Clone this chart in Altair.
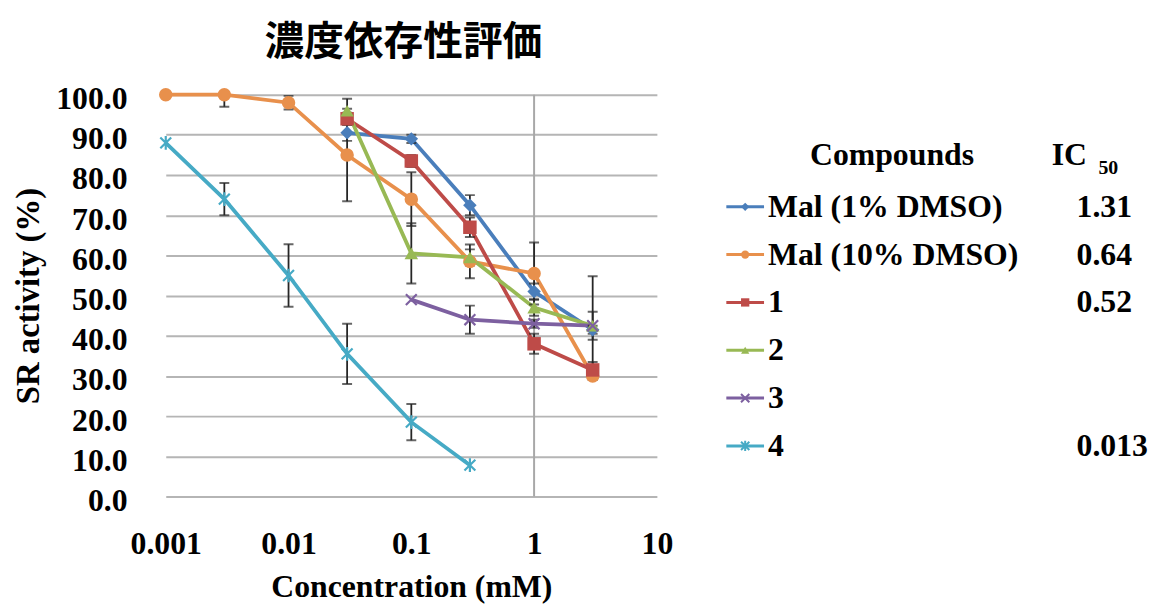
import altair as alt
import pandas as pd

# ---------------- data ----------------
compounds = ["Mal (1% DMSO)", "Mal (10% DMSO)", "1", "2", "3", "4"]
ic50_labels = ["1.31", "0.64", "0.52", "", "", "0.013"]
header_texts = ["Compounds", "IC", "50"]
chart_title = "濃度依存性評価"
x_title = "Concentration (mM)"
y_title = "SR activity (%)"

concentrations = [0.001, 0.003, 0.01, 0.03, 0.1, 0.3, 1, 3]
x_ticks = [0.001, 0.01, 0.1, 1, 10]
y_ticks = [0, 10, 20, 30, 40, 50, 60, 70, 80, 90, 100]
vertical_line_at = [1]

mal1 = [None, None, None, 90.5, 89.0, 72.5, 51.0, 41.5]
mal10 = [100.0, 100.0, 98.0, 85.0, 74.0, 58.5, 55.5, 30.0]
cmp1 = [None, None, None, 94.0, 83.5, 67.0, 38.0, 31.5]
cmp2 = [None, None, None, 96.0, 60.5, 59.5, 47.0, 42.5]
cmp3 = [None, None, None, None, 49.0, 44.0, 43.0, 42.5]
cmp4 = [88.0, 74.0, 55.0, 35.5, 18.5, 7.8, None, None]

mal1_err = [None, None, None, 2.0, 1.0, 2.5, 2.0, 1.0]
mal10_err = [None, 3.0, 1.7, 11.5, 6.7, 4.2, 7.7, 1.0]
cmp1_err = [None, None, None, 1.5, 1.5, 2.4, 2.5, 2.0]
cmp2_err = [None, None, None, 3.0, 7.5, 2.0, 2.0, 12.3]
cmp3_err = [None, None, None, None, 0.5, 3.5, 1.0, 3.5]
cmp4_err = [0.5, 4.0, 7.8, 7.5, 4.5, 0.5, None, None]

series = [mal1, mal10, cmp1, cmp2, cmp3, cmp4]
errors = [mal1_err, mal10_err, cmp1_err, cmp2_err, cmp3_err, cmp4_err]

colors = ["#4a7ebb", "#e8904c", "#be4b48", "#98b954", "#7d60a0", "#46aac5"]
x_path = "M-1,-1L1,1M-1,1L1,-1"
star_path = "M-1,-1L1,1M-1,1L1,-1M0,-1.25L0,1.25"
shapes = ["diamond", "circle", "square", "triangle-up", x_path, star_path]

# ---------------- tables ----------------
rows = []
for ci, (name, vals, errs) in enumerate(zip(compounds, series, errors)):
    for c, v, e in zip(concentrations, vals, errs):
        if v is None:
            continue
        e = e or 0.0
        rows.append({"compound": name, "order": ci, "conc": c, "val": v,
                     "lo": v - e, "hi": v + e, "err": e})
df = pd.DataFrame(rows)
err_df = df[df["err"] > 0.6]

leg_df = pd.DataFrame({"compound": compounds, "ic50": ic50_labels})

FONT = "Liberation Serif"
color_scale = alt.Scale(domain=compounds, range=colors)
shape_scale = alt.Scale(domain=compounds, range=shapes)
filled_set = compounds[:4]
open_set = compounds[4:]

x_enc = alt.X(
    "conc:Q",
    scale=alt.Scale(type="log", domain=[0.001, 10], nice=False),
    axis=alt.Axis(values=x_ticks, format="~g", grid=False, ticks=False, domain=False,
                  labelFontSize=32, labelPadding=32, labelFlush=False, title=x_title,
                  titleFontSize=32, titlePadding=13),
)
y_scale = alt.Scale(domain=[0, 100], nice=False)
y_enc = alt.Y(
    "val:Q",
    scale=y_scale,
    axis=alt.Axis(values=y_ticks, format=".1f", grid=True, gridColor="#b5b5b5",
                  gridWidth=2, ticks=False, domain=False, labelFontSize=32,
                  labelPadding=39, labelOffset=4, title=y_title,
                  titleFontSize=33, titlePadding=10),
)
color_enc = alt.Color("compound:N", scale=color_scale, legend=None)
shape_enc = alt.Shape("compound:N", scale=shape_scale, legend=None)

vline = alt.Chart(pd.DataFrame({"conc": vertical_line_at})).mark_rule(
    color="#a8a8a8", strokeWidth=2
).encode(x=alt.X("conc:Q"), y=alt.datum(0), y2=alt.datum(100))

base = alt.Chart(df)
lines = base.mark_line(strokeWidth=3.8).encode(
    x=x_enc, y=y_enc, color=color_enc, order="conc:Q"
)

ebase = alt.Chart(err_df)
err_rule = ebase.mark_rule(color="#262626", strokeWidth=1.8, clip=True).encode(
    x="conc:Q", y="lo:Q", y2="hi:Q"
)
err_lo = ebase.mark_tick(orient="horizontal", size=10, thickness=2, color="#262626",
                         clip=True).encode(x="conc:Q", y="lo:Q")
err_hi = ebase.mark_tick(orient="horizontal", size=10, thickness=2, color="#262626",
                         clip=True).encode(x="conc:Q", y="hi:Q")

pts_filled = base.transform_filter(
    alt.FieldOneOfPredicate(field="compound", oneOf=filled_set)
).mark_point(filled=True, size=185, opacity=1).encode(
    x="conc:Q", y="val:Q", color=color_enc, shape=shape_enc
)
pts_open = base.transform_filter(
    alt.FieldOneOfPredicate(field="compound", oneOf=open_set)
).mark_point(filled=False, size=120, strokeWidth=2.2, opacity=1).encode(
    x="conc:Q", y="val:Q", color=color_enc, shape=shape_enc
)

main = alt.layer(vline, lines, err_rule, err_lo, err_hi, pts_filled, pts_open).properties(
    width=495,
    height=405,
    title=alt.TitleParams(chart_title, font="Noto Sans CJK JP", fontSize=40,
                          fontWeight="bold", anchor="middle", offset=20, dx=-8,
                          color="black"),
)

# ---------------- legend panel ----------------
leg_y = alt.Y("compound:N",
              scale=alt.Scale(type="point", domain=compounds, range=[113, 354], padding=0),
              axis=None)
lbase = alt.Chart(leg_df)
leg_lines = lbase.mark_rule(strokeWidth=3).encode(
    x=alt.value(15), x2=alt.value(53), y=leg_y, color=color_enc
)
leg_pts_f = lbase.transform_filter(
    alt.FieldOneOfPredicate(field="compound", oneOf=filled_set)
).mark_point(filled=True, size=70, opacity=1).encode(
    x=alt.value(34), y=leg_y, color=color_enc, shape=shape_enc
)
leg_pts_o = lbase.transform_filter(
    alt.FieldOneOfPredicate(field="compound", oneOf=open_set)
).mark_point(filled=False, size=70, strokeWidth=2, opacity=1).encode(
    x=alt.value(34), y=leg_y, color=color_enc, shape=shape_enc
)
leg_labels = lbase.mark_text(align="left", baseline="middle", font=FONT, fontSize=32,
                             fontWeight="bold", color="black").encode(
    x=alt.value(57), y=leg_y, text="compound:N"
)
leg_ic50 = lbase.mark_text(align="left", baseline="middle", font=FONT, fontSize=32,
                           fontWeight="bold", color="black").encode(
    x=alt.value(368), y=leg_y, text="ic50:N"
)
hdr_comp = alt.Chart(pd.DataFrame({"t": [header_texts[0]]})).mark_text(
    align="center", baseline="alphabetic", font=FONT, fontSize=32, fontWeight="bold",
    color="black").encode(x=alt.value(182), y=alt.value(71), text="t:N")
hdr_ic = alt.Chart(pd.DataFrame({"t": [header_texts[1]]})).mark_text(
    align="left", baseline="alphabetic", font=FONT, fontSize=32, fontWeight="bold",
    color="black").encode(x=alt.value(343), y=alt.value(71), text="t:N")
hdr_50 = alt.Chart(pd.DataFrame({"t": [header_texts[2]]})).mark_text(
    align="left", baseline="alphabetic", font=FONT, fontSize=20, fontWeight="bold",
    color="black").encode(x=alt.value(390), y=alt.value(80), text="t:N")

legend_panel = alt.layer(leg_lines, leg_pts_f, leg_pts_o, leg_labels, leg_ic50,
                         hdr_comp, hdr_ic, hdr_50).properties(width=420, height=405)

chart = alt.hconcat(main, legend_panel, spacing=39).properties(
    padding={"left": 5, "top": 13, "right": 0, "bottom": 0}
).configure_view(stroke=None).configure_axis(
    labelFont=FONT, titleFont=FONT, labelFontWeight="bold", titleFontWeight="bold",
    labelColor="black", titleColor="black"
)

chart.save("out.html", embed_options={"renderer": "svg", "actions": False})
